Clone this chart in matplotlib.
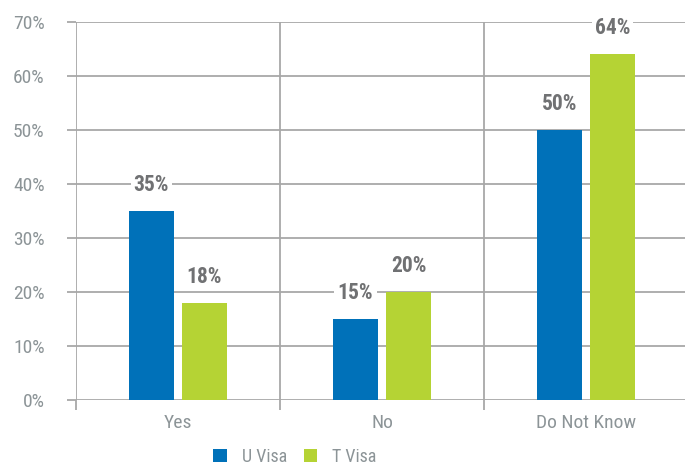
import matplotlib.pyplot as plt
from matplotlib import font_manager
import numpy as np

categories = ['Yes', 'No', 'Do Not Know']
u_visa = [35, 15, 50]
t_visa = [18, 20, 64]
series_names = ['U Visa', 'T Visa']
yticks = [0, 10, 20, 30, 40, 50, 60, 70]

blue = '#0071b9'
green = '#b5d334'
grid_col = '#a8a8a8'
tick_col = '#8c9497'
label_col = '#707173'

# narrow face if there is one
names = {f.name for f in font_manager.fontManager.ttflist}
fam = 'DejaVu Sans'
for cand in ['Roboto Condensed', 'Liberation Sans Narrow', 'Roboto']:
    if cand in names:
        fam = cand
        break
plt.rcParams['font.family'] = [fam, 'DejaVu Sans']

fig = plt.figure(figsize=(6.85, 4.65), dpi=100)
ax = fig.add_axes([76/685, 1-400/465, 612/685, 378/465])

x = np.arange(len(categories)) + 0.5
w = 0.216
off = 0.13
b1 = ax.bar(x - off, u_visa, w, color=blue, label=series_names[0], zorder=3)
b2 = ax.bar(x + off, t_visa, w, color=green, label=series_names[1], zorder=3)

for bars, vals in ((b1, u_visa), (b2, t_visa)):
    for r, v in zip(bars, vals):
        ax.annotate('{}%'.format(v), (r.get_x() + r.get_width()/2, v),
                    xytext=(0, 26), textcoords='offset pixels',
                    ha='center', va='center', fontsize=15.5, fontweight='bold',
                    color=label_col, zorder=4,
                    bbox=dict(boxstyle='square,pad=0.15', fc='white', ec='none'))

ax.set_xlim(0, 3)
ax.set_ylim(0, 70)
ax.set_yticks(yticks)
ax.set_yticklabels(['{}%'.format(t) for t in yticks])
ax.set_xticks(x)
ax.set_xticklabels(categories)
ax.set_xticks([0, 1, 2, 3], minor=True)

ax.yaxis.grid(True, color=grid_col, lw=1.3, zorder=0)
ax.xaxis.grid(True, which='minor', color=grid_col, lw=1.3, zorder=0)
ax.tick_params(axis='y', length=6.5, width=1.3, color=grid_col, labelcolor=tick_col,
               labelsize=14, pad=16)
ax.tick_params(axis='x', which='major', length=0, labelcolor=tick_col,
               labelsize=14, pad=10)
ax.tick_params(axis='x', which='minor', length=7.2, width=1.3, color=grid_col)
for s in ax.spines.values():
    s.set_visible(False)

fig.legend(loc='center', bbox_to_anchor=(295/685, 1-457/465), ncol=2, frameon=False,
           fontsize=13, labelcolor=tick_col, handlelength=0.75, handleheight=0.75,
           columnspacing=0.9, handletextpad=0.85)

fig.savefig('out.png', dpi=100)
